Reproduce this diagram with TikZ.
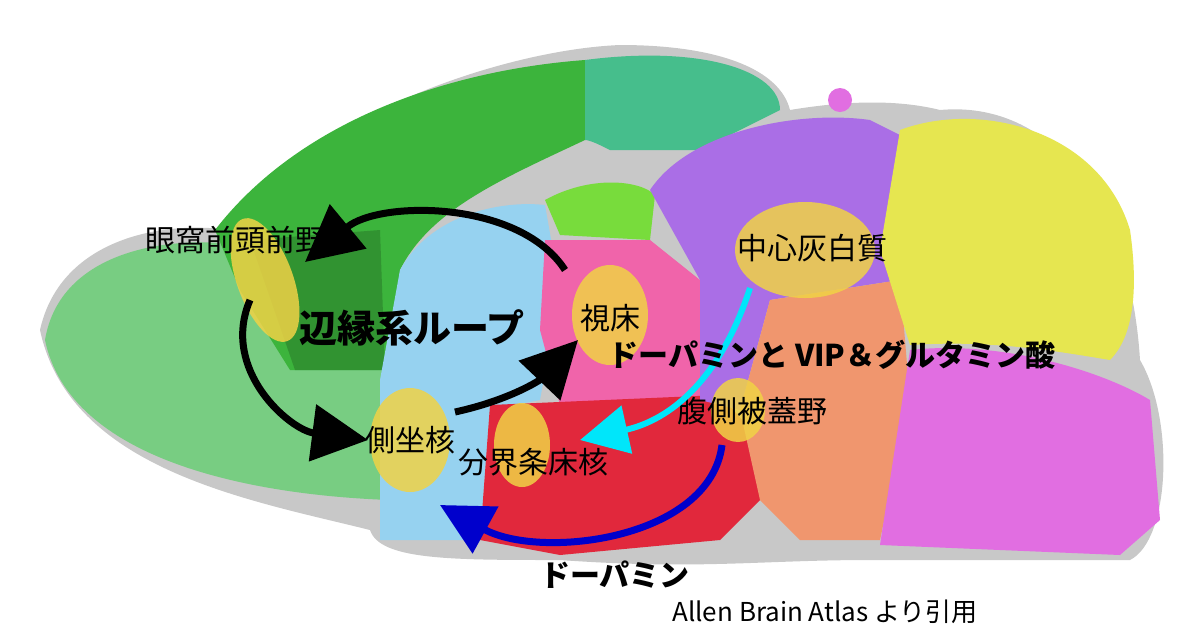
\documentclass[tikz,border=0pt]{standalone}
\usepackage{fontspec}
\setmainfont{Noto Sans CJK JP}
\usetikzlibrary{arrows.meta,shapes.geometric}
\definecolor{olf}{RGB}{120,205,130}
\definecolor{ctx}{RGB}{60,180,60}
\definecolor{teal1}{RGB}{70,190,140}
\definecolor{purp}{RGB}{170,110,230}
\definecolor{cbx}{RGB}{230,230,80}
\definecolor{mag}{RGB}{225,110,225}
\definecolor{orng}{RGB}{240,150,110}
\definecolor{hyred}{RGB}{225,40,60}
\definecolor{thpink}{RGB}{240,100,170}
\definecolor{strb}{RGB}{150,210,240}
\definecolor{hpf}{RGB}{120,220,60}
\definecolor{grayb}{RGB}{200,200,200}
\definecolor{hl}{RGB}{240,210,70}
\definecolor{cyanb}{RGB}{0,230,250}
\tikzset{
 hlreg/.style={fill=hl,fill opacity=0.85},
 lbl/.style={font=\fontsize{15}{17}\selectfont,text=black},
 blk/.style={line width=3.5pt,-{Triangle[length=28pt,width=28pt]}},
 bold/.style={font=\bfseries\fontsize{15}{17}\selectfont}
}
\begin{document}
\begin{tikzpicture}[x=0.5pt,y=-0.5pt]
\useasboundingbox (0,0) rectangle (1200,634);
\fill[white] (0,0) rectangle (1200,634);
\fill[grayb] (40,330) .. controls (60,240) and (160,220) .. (230,230)
 .. controls (300,120) and (500,50) .. (620,45) .. controls (720,45) and (780,70) .. (790,110)
 .. controls (850,100) and (900,100) .. (940,110) .. controls (1050,100) and (1130,200) .. (1140,360)
 .. controls (1175,420) and (1170,540) .. (1130,560) -- (870,560) .. controls (760,560) and (700,570) .. (560,560)
 .. controls (450,560) and (380,560) .. (370,530) .. controls (250,500) and (70,470) .. (40,330) -- cycle;
\fill[olf] (45,340) .. controls (60,250) and (170,235) .. (240,245) -- (290,300) -- (380,330) -- (390,500)
 .. controls (250,495) and (70,460) .. (45,340) -- cycle;
\fill[ctx] (215,230) .. controls (300,120) and (450,70) .. (585,60) -- (585,140) .. controls (500,180) and (430,210) .. (400,270)
 -- (390,370) -- (290,370) -- (240,290) -- cycle;
\fill[ctx!70!black,opacity=0.6] (250,240) -- (380,230) -- (385,370) -- (295,370) -- cycle;
\fill[teal1] (585,60) .. controls (700,45) and (780,70) .. (780,110) -- (700,150) -- (610,150) .. controls (600,145) and (590,140) .. (585,140) -- cycle;
\fill[strb] (400,270) .. controls (430,215) and (500,200) .. (545,205) -- (560,290) -- (540,400) -- (490,410) -- (480,540) -- (380,540) -- (380,380) -- cycle;
\fill[hpf] (545,200) .. controls (590,175) and (640,180) .. (655,195) -- (650,240) -- (560,235) -- cycle;
\fill[thpink] (545,240) -- (650,240) -- (700,280) -- (700,400) -- (560,405) -- (540,330) -- cycle;
\fill[hyred] (490,405) -- (720,395) -- (760,440) -- (760,500) -- (720,540) -- (560,555) -- (480,540) -- cycle;
\fill[purp] (650,190) .. controls (690,130) and (800,110) .. (870,120) -- (910,140) -- (900,280) -- (770,300) -- (740,410) -- (700,400) -- (700,280) -- cycle;
\fill[orng] (770,300) -- (900,280) -- (910,400) -- (880,540) -- (800,540) -- (760,500) -- (740,410) -- cycle;
\fill[mag] (910,350) .. controls (1000,340) and (1100,370) .. (1150,400) -- (1160,520) -- (1120,555) -- (880,545) -- cycle;
\fill[cbx] (900,130) .. controls (980,100) and (1100,130) .. (1130,230) .. controls (1140,300) and (1130,340) .. (1110,360)
 .. controls (1050,350) and (990,340) .. (910,345) -- (880,250) -- cycle;
\fill[mag] (840,100) ellipse (12 and 12);
\fill[hlreg,rotate around={-70:(265,280)}] (265,280) ellipse (65 and 28);
\fill[hlreg] (610,315) ellipse (38 and 50);
\fill[hlreg] (805,250) ellipse (70 and 48);
\fill[hlreg] (738,410) ellipse (27 and 32);
\fill[hlreg] (410,440) ellipse (40 and 52);
\fill[hlreg] (522,445) ellipse (28 and 42);
\node[lbl] (ofc) at (235,240) {眼窩前頭前野};
\node[lbl] (th) at (610,318) {視床};
\node[lbl] (pag) at (812,248) {中心灰白質};
\node[lbl] (vta) at (752,411) {腹側被蓋野};
\node[lbl] (nac) at (410,440) {側坐核};
\node[lbl] (bst) at (533,462) {分界条床核};
\coordinate (c1) at (565,270);
\coordinate (c2) at (305,262);
\coordinate (c3) at (250,300);
\coordinate (c4) at (368,440);
\coordinate (c5) at (455,412);
\coordinate (c6) at (578,340);
\coordinate (c7) at (750,288);
\coordinate (c8) at (580,440);
\coordinate (c9) at (722,445);
\coordinate (c10) at (440,505);
\draw[blk] (c1) .. controls (520,200) and (380,200) .. (c2);
\draw[blk] (c3) .. controls (220,370) and (290,430) .. (c4);
\draw[blk] (c5) .. controls (510,400) and (540,380) .. (c6);
\draw[cyanb,line width=3pt,-{Triangle[length=24pt,width=24pt]}] (c7) .. controls (720,380) and (670,420) .. (c8);
\draw[blue!80!black,line width=3.5pt,-{Triangle[length=26pt,width=26pt]}] (c9) .. controls (710,540) and (540,560) .. (c10);
\node[font=\bfseries\fontsize{19}{21}\selectfont] (loop) at (412,328) {辺縁系ループ};
\node[bold] (dv) at (832,355) {ドーパミンと VIP＆グルタミン酸};
\node[bold] (dp) at (615,575) {ドーパミン};
\node[font=\fontsize{13}{15}\selectfont] (src) at (825,612) {Allen Brain Atlas より引用};
\end{tikzpicture}
\end{document}
